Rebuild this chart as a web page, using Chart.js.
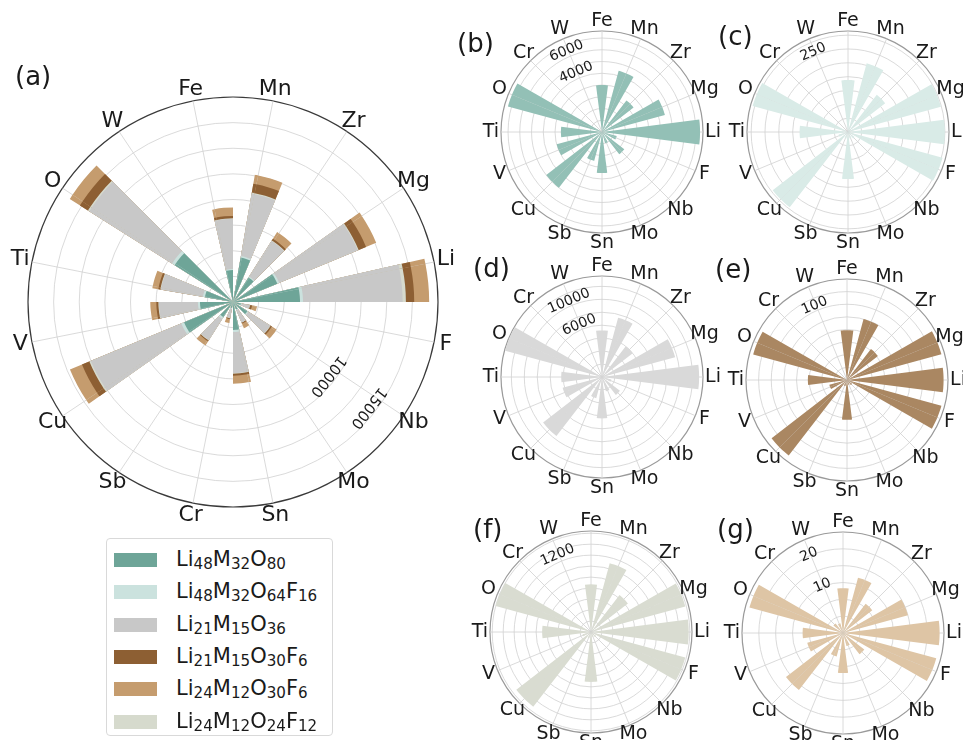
<!DOCTYPE html>
<html>
<head>
<meta charset="utf-8">
<script src="https://cdn.jsdelivr.net/npm/chart.js@4.4.1/dist/chart.umd.min.js"></script>
<style>
  html, body { margin: 0; padding: 0; background: #fff; }
  body { width: 963px; height: 740px; position: relative; overflow: hidden;
         font-family: "DejaVu Sans", sans-serif; color: #1a1a1a; }
  canvas { position: absolute; }
  .tag { position: absolute; font-size: 26px; line-height: 26px; }
  #legend { position: absolute; left: 106px; top: 538px; width: 227px; height: 198px;
            border: 1px solid #d9d9d9; border-radius: 4px; background: #fff; box-sizing: border-box; }
  .row { position: absolute; left: 0; height: 32px; width: 100%; }
  .sw { position: absolute; left: 7px; top: 10px; width: 43px; height: 14px; }
  .nm { position: absolute; left: 69px; top: 2px; font-size: 21px; line-height: 28px; white-space: nowrap; }
  .nm sub { font-size: 0.72em; vertical-align: -0.22em; line-height: 0; }
</style>
</head>
<body>
<canvas id="ca" width="500" height="500" style="left:-17px;top:52px"></canvas>
<canvas id="cb" width="266" height="266" style="left:469px;top:-1px"></canvas>
<canvas id="cc" width="266" height="266" style="left:715px;top:-1px"></canvas>
<canvas id="cd" width="266" height="266" style="left:469px;top:244px"></canvas>
<canvas id="ce" width="266" height="266" style="left:714px;top:247px"></canvas>
<canvas id="cf" width="266" height="266" style="left:458px;top:499px"></canvas>
<canvas id="cg" width="266" height="266" style="left:710px;top:500px"></canvas>
<div class="tag" style="left:15px;top:63px">(a)</div>
<div class="tag" style="left:457px;top:30px">(b)</div>
<div class="tag" style="left:718px;top:23px">(c)</div>
<div class="tag" style="left:473px;top:255px">(d)</div>
<div class="tag" style="left:715px;top:256px">(e)</div>
<div class="tag" style="left:473px;top:516px">(f)</div>
<div class="tag" style="left:717px;top:516px">(g)</div>
<div id="legend"></div>
<script>
// Category order of the stacked overview and of the single-compound panels
const catsA = ['Fe', 'Mn', 'Zr', 'Mg', 'Li', 'F', 'Nb', 'Mo', 'Sn', 'Cr', 'Sb', 'Cu', 'V', 'Ti', 'O', 'W'];
const catsB = ['Fe', 'Mn', 'Zr', 'Mg', 'Li', 'F', 'Nb', 'Mo', 'Sn', 'Sb', 'Cu', 'V', 'Ti', 'O', 'Cr', 'W'];

// Compounds (legend order) and their colours
const compounds = ['Li48M32O80', 'Li48M32O64F16', 'Li21M15O36', 'Li21M15O30F6', 'Li24M12O30F6', 'Li24M12O24F12'];
const colors = ['#6ea598', '#cbe2de', '#c8c8c8', '#8d5f33', '#c59c6e', '#d6dacd'];

// (a) stacked segments, one array per compound (legend order), in catsA order
const aSeg1 = [3120, 4390, 2830, 4680, 6540, 780, 1660, 780, 2730, 590, 1750, 5170, 3220, 2780, 6730, 100];
const aSeg2 = [100, 150, 100, 200, 290, 100, 100, 100, 200, 100, 200, 290, 200, 200, 290, 0];
const aSeg3 = [4880, 6190, 4100, 8290, 9720, 780, 2530, 1270, 4000, 880, 2440, 9560, 3800, 4150, 9560, 0];
const aSeg4 = [240, 880, 200, 780, 810, 200, 150, 100, 200, 100, 100, 780, 200, 200, 930, 0];
const aSeg5 = [830, 880, 780, 1070, 1460, 490, 540, 490, 780, 390, 490, 1270, 590, 590, 1170, 0];
const aSeg6 = [60, 100, 60, 100, 320, 30, 50, 30, 60, 30, 50, 150, 60, 60, 150, 0];
// outward stacking order of the compounds in (a)
const aStack = [0, 1, 2, 5, 3, 4];
const aTicks = [10000, 15000];

// (b)-(g) single compounds, in catsB order
const bVals = [4000, 5400, 3400, 5550, 8350, 1300, 2400, 1000, 3500, 2550, 6000, 4000, 3500, 8300, 0, 0];
const cVals = [188, 257, 170, 348, 350, 354, 30, 25, 170, 25, 344, 35, 175, 357, 0, 0];
const dVals = [7200, 9500, 6000, 11700, 15000, 1500, 3500, 2300, 6400, 3400, 11500, 6300, 6300, 15500, 0, 0];
const eVals = [79, 100, 62, 155, 153, 155, 10, 8, 63, 10, 151, 29, 62, 154, 0, 0];
const fVals = [868, 1300, 850, 1780, 1780, 1780, 120, 90, 910, 120, 1720, 160, 890, 1800, 0, 0];
const gVals = [13.3, 17, 11, 20, 28.7, 28.7, 8, 4, 11.9, 7.2, 21.4, 11, 12, 28.8, 3.6, 3];
const bTicks = [4000, 6000], cTicks = [250], dTicks = [6000, 10000], eTicks = [100], fTicks = [1200], gTicks = [10, 20];

const GRID = '#d0d0d0';

// Each category becomes three arcs: right part of its bar, an empty gap,
// and the left part of the next category's bar, so bars sit on the spokes.
function expand(vals) {
  const out = [];
  for (let k = 0; k < vals.length; k++) out.push(vals[k], 0, vals[(k + 1) % vals.length]);
  return out;
}
function cumulate(layers) {
  const acc = layers[0].map(() => 0);
  return layers.map(l => l.map((v, i) => (acc[i] += v)));
}

const polarText = {
  id: 'polarText',
  afterDraw(chart, args, o) {
    const s = chart.scales.r, ctx = chart.ctx;
    ctx.save();
    ctx.fillStyle = '#1a1a1a';
    ctx.textAlign = 'center';
    ctx.textBaseline = 'middle';
    ctx.font = o.catSize + 'px "DejaVu Sans"';
    o.cats.forEach((c, k) => {
      const p = s.getPointPosition(3 * k, s.drawingArea + o.catPad);
      ctx.fillText(c, p.x, p.y);
    });
    ctx.font = o.tickSize + 'px "DejaVu Sans"';
    const rot = o.tickAngle * Math.PI / 180;
    o.ticks.forEach(v => {
      const d = s.getDistanceFromCenterForValue(v) + o.tickPad;
      ctx.save();
      ctx.translate(s.xCenter, s.yCenter);
      ctx.rotate(rot);
      ctx.fillText(String(v), 0, -d);
      ctx.restore();
    });
    ctx.restore();
  }
};

function polarChart(id, cfg) {
  const angles = [cfg.pR, 22.5 - cfg.pR - cfg.pL, cfg.pL];
  const labels = [];
  cfg.cats.forEach(c => labels.push(c, '', ''));
  const datasets = cfg.layers.map((vals, i) => ({
    data: expand(vals),
    backgroundColor: cfg.colors[i],
    borderWidth: 0,
    angle: c => angles[c.index % 3]
  }));
  return new Chart(document.getElementById(id), {
    type: 'polarArea',
    data: { labels, datasets },
    options: {
      responsive: false,
      animation: false,
      layout: { padding: cfg.pad },
      plugins: {
        legend: { display: false },
        tooltip: { enabled: false },
        polarText: { cats: cfg.cats, catSize: cfg.catSize, catPad: cfg.catPad, tickSize: cfg.tickSize,
                     ticks: cfg.ticks, tickAngle: cfg.tickAngle, tickPad: 18 }
      },
      scales: {
        r: {
          min: 0, max: cfg.max, startAngle: cfg.start, z: 1,
          afterBuildTicks: s => { s.ticks = cfg.rings.map(v => ({ value: v })); },
          ticks: { display: false },
          grid: { circular: true,
                  color: c => (c.tick && c.tick.value === cfg.max ? cfg.spine : GRID),
                  lineWidth: c => (c.tick && c.tick.value === cfg.max ? 1.2 : 0.8) },
          angleLines: { display: true, color: GRID, lineWidth: c => (c.index % 3 === 0 ? 0.8 : 0) },
          pointLabels: { display: false }
        }
      }
    },
    plugins: [polarText]
  });
}

function rings(step, max) {
  const r = [];
  for (let v = 0; v < max - 1e-9; v += step) r.push(v);
  r.push(max);
  return r;
}

// (a) stacked overview
const aSegs = [aSeg1, aSeg2, aSeg3, aSeg4, aSeg5, aSeg6];
polarChart('ca', {
  cats: catsA, catSize: 22, catPad: 12, pad: 45, start: -11.25, pR: 11.25, pL: 1.5,
  max: 20000, rings: rings(2500, 20000), ticks: aTicks, tickAngle: 128, tickSize: 15, spine: '#3a3a3a',
  layers: cumulate(aStack.map(i => aSegs[i])), colors: aStack.map(i => colors[i])
});

// (b)-(g) one compound each
const small = [
  ['cb', bVals, 8600, 1000, bTicks, '#93c0b6'],
  ['cc', cVals, 365, 50, cTicks, '#d9ebe7'],
  ['cd', dVals, 15600, 2000, dTicks, '#d9d9d9'],
  ['ce', eVals, 160, 20, eTicks, '#aa8762'],
  ['cf', fVals, 1840, 200, fTicks, '#d9dcd1'],
  ['cg', gVals, 30, 5, gTicks, '#dec5a5']
];
small.forEach(([id, vals, max, step, ticks, col]) => {
  polarChart(id, {
    cats: catsB, catSize: 19, catPad: 10, pad: 32, start: 0, pR: 7.3, pL: 7.3,
    max, rings: rings(step, max), ticks, tickAngle: -23.5, tickSize: 14, spine: '#9a9a9a',
    layers: [vals], colors: [col]
  });
});

// Legend
const leg = document.getElementById('legend');
compounds.forEach((name, i) => {
  const row = document.createElement('div');
  row.className = 'row';
  row.style.top = (4 + i * 32.3) + 'px';
  row.innerHTML = '<div class="sw" style="background:' + colors[i] + '"></div>' +
    '<div class="nm">' + name.replace(/(\d+)/g, '<sub>$1</sub>') + '</div>';
  leg.appendChild(row);
});
</script>
</body>
</html>
